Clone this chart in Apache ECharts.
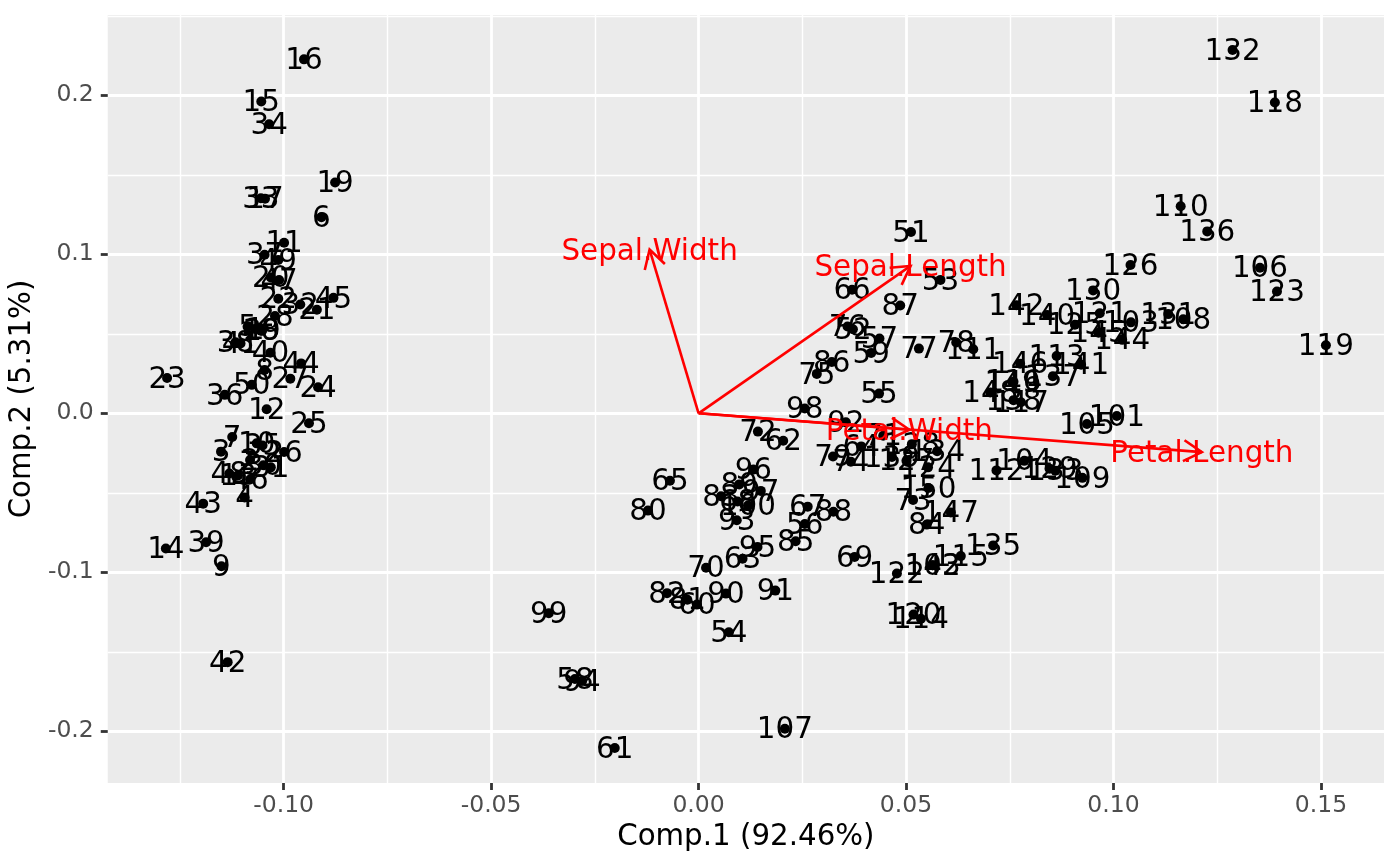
<!DOCTYPE html>
<html>
<head>
<meta charset="utf-8">
<title>Comp.1 / Comp.2 biplot</title>
<script src="https://cdn.jsdelivr.net/npm/echarts@6/dist/echarts.min.js"></script>
<style>
html, body { margin: 0; padding: 0; background: #ffffff; }
#js-biplot { width: 1400px; height: 866px; }
</style>
</head>
<body>
<div id="js-biplot"></div>
<script>
// scores on the first two components, observations 1..150
var pc1 = [
	-0.1069, -0.1081, -0.1151, -0.1094, -0.1087, -0.0909, -0.1124, -0.1046, -0.1150, -0.1065,
	-0.0999, -0.1041, -0.1110, -0.1284, -0.1054, -0.0951, -0.1045, -0.1055, -0.0876, -0.1031,
	-0.0920, -0.1013, -0.1281, -0.0917, -0.0939, -0.0999, -0.0984, -0.1021, -0.1052, -0.1049,
	-0.1031, -0.0960, -0.1055, -0.1035, -0.1051, -0.1142, -0.1046, -0.1116, -0.1187, -0.1032,
	-0.1104, -0.1135, -0.1194, -0.0958, -0.0880, -0.1081, -0.1011, -0.1131, -0.1013, -0.1077,
	0.0512, 0.0372, 0.0583, 0.0073, 0.0435, 0.0256, 0.0436, -0.0298, 0.0416, -0.0004,
	-0.0202, 0.0204, 0.0106, 0.0392, -0.0069, 0.0370, 0.0263, 0.0094, 0.0376, 0.0018,
	0.0445, 0.0143, 0.0517, 0.0367, 0.0285, 0.0359, 0.0531, 0.0621, 0.0324, -0.0122,
	-0.0027, -0.0076, 0.0054, 0.0550, 0.0234, 0.0321, 0.0486, 0.0325, 0.0098, 0.0066,
	0.0185, 0.0355, 0.0092, -0.0281, 0.0142, 0.0132, 0.0150, 0.0256, -0.0361, 0.0119,
	0.1008, 0.0564, 0.1042, 0.0785, 0.0936, 0.1353, 0.0208, 0.1168, 0.0925, 0.1162,
	0.0662, 0.0718, 0.0863, 0.0536, 0.0632, 0.0759, 0.0777, 0.1389, 0.1512, 0.0518,
	0.0967, 0.0478, 0.1394, 0.0553, 0.0907, 0.1041, 0.0501, 0.0514, 0.0846, 0.0951,
	0.1132, 0.1287, 0.0860, 0.0575, 0.0710, 0.1226, 0.0854, 0.0759, 0.0466, 0.0840,
	0.0922, 0.0766, 0.0564, 0.1021, 0.0964, 0.0775, 0.0608, 0.0703, 0.0757, 0.0554
];
var pc2 = [
	0.0531, -0.0294, -0.0241, -0.0529, 0.0544, 0.1233, -0.0149, 0.0272, -0.0962, -0.0189,
	0.1073, 0.0025, -0.0391, -0.0850, 0.1961, 0.2226, 0.1349, 0.0519, 0.1452, 0.0854,
	0.0651, 0.0720, 0.0222, 0.0164, -0.0062, -0.0243, 0.0218, 0.0612, 0.0519, -0.0327,
	-0.0340, 0.0684, 0.1353, 0.1818, -0.0202, 0.0116, 0.0997, 0.0447, -0.0811, 0.0381,
	0.0439, -0.1565, -0.0568, 0.0314, 0.0726, -0.0416, 0.0838, -0.0379, 0.0964, 0.0179,
	0.1140, 0.0529, 0.0839, -0.1377, 0.0124, -0.0696, 0.0471, -0.1671, 0.0380, -0.1203,
	-0.2105, -0.0173, -0.0915, -0.0208, -0.0424, 0.0777, -0.0587, -0.0555, -0.0903, -0.0971,
	-0.0141, -0.0115, -0.0545, -0.0304, 0.0248, 0.0546, 0.0407, 0.0445, -0.0272, -0.0612,
	-0.1173, -0.1131, -0.0522, -0.0700, -0.0805, 0.0323, 0.0678, -0.0619, -0.0447, -0.1134,
	-0.1115, -0.0057, -0.0673, -0.1683, -0.0840, -0.0354, -0.0488, 0.0030, -0.1257, -0.0580,
	-0.0017, -0.0956, 0.0572, -0.0299, -0.0067, 0.0916, -0.1984, 0.0591, -0.0406, 0.1302,
	0.0403, -0.0359, 0.0360, -0.1292, -0.0898, 0.0198, 0.0070, 0.1955, 0.0428, -0.1266,
	0.0629, -0.1008, 0.0766, -0.0340, 0.0557, 0.0933, -0.0299, -0.0194, -0.0349, 0.0773,
	0.0624, 0.2285, -0.0361, -0.0239, -0.0831, 0.1144, 0.0233, 0.0082, -0.0274, 0.0619,
	0.0305, 0.0680, -0.0956, 0.0462, 0.0507, 0.0312, -0.0624, 0.0131, 0.0194, -0.0470
];

// loadings arrows (tips)
var loadNames = ['Sepal.Length', 'Sepal.Width', 'Petal.Length', 'Petal.Width'];
var load1 = [0.0511, -0.0118, 0.1213, 0.0508];
var load2 = [0.0927, 0.1030, -0.0244, -0.0103];

// axis ticks
var xTicks = [-0.10, -0.05, 0.00, 0.05, 0.10, 0.15];
var xTickLabels = ['-0.10', '-0.05', '0.00', '0.05', '0.10', '0.15'];
var yTicks = [-0.2, -0.1, 0.0, 0.1, 0.2];
var yTickLabels = ['-0.2', '-0.1', '0.0', '0.1', '0.2'];

var font = 'DejaVu Sans';

function tickText(ticks, labels){
	return function(v){
		for (var i = 0; i < ticks.length; i++) {
			if (Math.abs(ticks[i] - v) < 1e-9) return labels[i];
		}
		return '';
	};
}

function initBiplot(){
	var chart = echarts.init(document.getElementById('js-biplot'));

	var points = pc1.map(function(v, i){
		return [v, pc2[i], String(i + 1)];
	});
	var arrows = load1.map(function(v, i){
		return [v, load2[i]];
	});

	var option = {
		animation: false,
		backgroundColor: '#ffffff',
		grid: {
			left: 107, right: 16, top: 15, bottom: 83,
			show: true, backgroundColor: '#EBEBEB', borderWidth: 0
		},
		xAxis: {
			type: 'value',
			min: -0.1424, max: 0.1652,
			name: 'Comp.1 (92.46%)',
			nameLocation: 'middle',
			nameGap: 40,
			nameTextStyle: { color: '#000000', fontSize: 29.3, fontFamily: font },
			axisLine: { show: false, onZero: false },
			axisTick: { show: true, customValues: xTicks, length: 7, lineStyle: { color: '#333333', width: 2.8 } },
			axisLabel: { customValues: xTicks, color: '#4D4D4D', fontSize: 23.5, fontFamily: font, margin: 11,
				formatter: tickText(xTicks, xTickLabels) },
			splitLine: { show: true, lineStyle: { color: '#ffffff', width: 2.8 } },
			minorTick: { show: false, splitNumber: 2 },
			minorSplitLine: { show: true, lineStyle: { color: '#ffffff', width: 1.4 } }
		},
		yAxis: {
			type: 'value',
			min: -0.2325, max: 0.2505,
			name: 'Comp.2 (5.31%)',
			nameLocation: 'middle',
			nameRotate: 90,
			nameGap: 62,
			nameTextStyle: { color: '#000000', fontSize: 29.3, fontFamily: font },
			axisLine: { show: false, onZero: false },
			axisTick: { show: true, customValues: yTicks, length: 7, lineStyle: { color: '#333333', width: 2.8 } },
			axisLabel: { customValues: yTicks, color: '#4D4D4D', fontSize: 23.5, fontFamily: font, margin: 14,
				formatter: tickText(yTicks, yTickLabels) },
			splitLine: { show: true, lineStyle: { color: '#ffffff', width: 2.8 } },
			minorTick: { show: false, splitNumber: 2 },
			minorSplitLine: { show: true, lineStyle: { color: '#ffffff', width: 1.4 } }
		},
		series: [
			{
				type: 'scatter',
				data: points,
				symbol: 'circle',
				symbolSize: 10,
				silent: true,
				z: 2,
				itemStyle: { color: '#000000', opacity: 1 },
				label: {
					show: true,
					position: 'inside',
					offset: [0, 2],
					formatter: function(p){ return p.data[2]; },
					color: '#000000',
					opacity: 1,
					textBorderWidth: 0,
					fontSize: 29.4,
					fontFamily: font
				},
				emphasis: { disabled: true }
			},
			{
				type: 'custom',
				data: arrows,
				silent: true,
				z: 5,
				encode: { x: 0, y: 1 },
				renderItem: function(params, api){
					var o = api.coord([0, 0]);
					var p = api.coord([api.value(0), api.value(1)]);
					var a = Math.atan2(p[1] - o[1], p[0] - o[0]);
					var len = 21, h = Math.PI / 6;
					var h1 = [p[0] - len * Math.cos(a - h), p[1] - len * Math.sin(a - h)];
					var h2 = [p[0] - len * Math.cos(a + h), p[1] - len * Math.sin(a + h)];
					return {
						type: 'group',
						children: [
							{ type: 'line', shape: { x1: o[0], y1: o[1], x2: p[0], y2: p[1] },
								style: { stroke: '#FF0000', lineWidth: 2.6 } },
							{ type: 'polyline', shape: { points: [h1, p, h2] },
								style: { stroke: '#FF0000', lineWidth: 2.6, fill: null } },
							{ type: 'text', x: p[0], y: p[1] + 2.5,
								style: { text: loadNames[params.dataIndex], fill: '#FF0000', fontSize: 29.4,
									fontFamily: font, align: 'center', verticalAlign: 'middle' } }
						]
					};
				}
			}
		]
	};
	chart.setOption(option);
}

initBiplot();
</script>
</body>
</html>
